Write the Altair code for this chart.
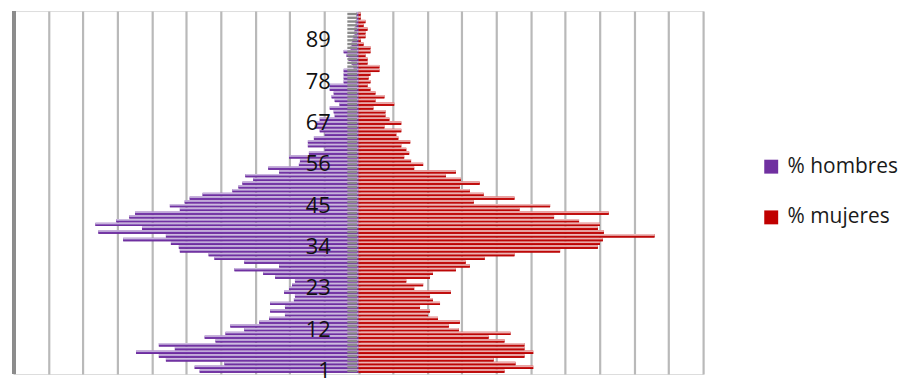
import altair as alt
import pandas as pd

# Ages (categories), bottom to top
edades = list(range(1, 97))

# % of total population per single age (gridline = 0.2 %)
hombres = [0.922, 0.951, 0.778, 1.118, 1.159, 1.291, 1.066, 1.159, 0.830, 0.893,
           0.772, 0.663, 0.744, 0.576, 0.519, 0.427, 0.513, 0.427, 0.513, 0.375,
           0.369, 0.432, 0.403, 0.386, 0.369, 0.484, 0.553, 0.720, 0.461, 0.663,
           0.836, 0.870, 1.037, 1.043, 1.089, 1.366, 1.118, 1.510, 1.256, 1.527,
           1.406, 1.331, 1.297, 1.037, 1.095, 1.009, 0.980, 0.905, 0.732, 0.697,
           0.674, 0.611, 0.657, 0.461, 0.524, 0.346, 0.340, 0.403, 0.288, 0.196,
           0.294, 0.294, 0.259, 0.196, 0.225, 0.254, 0.242, 0.225, 0.138, 0.144,
           0.167, 0.110, 0.138, 0.156, 0.144, 0.167, 0.167, 0.086, 0.086, 0.086,
           0.086, 0.029, 0.040, 0.058, 0.069, 0.086, 0.046, 0.040, 0.035, 0.029,
           0.023, 0.023, 0.017, 0.017, 0.012, 0.012]

mujeres = [0.847, 1.014, 0.911, 0.784, 0.963, 1.014, 0.963, 0.963, 0.847, 0.755,
           0.882, 0.582, 0.524, 0.588, 0.461, 0.403, 0.415, 0.357, 0.473, 0.432,
           0.415, 0.536, 0.323, 0.375, 0.277, 0.415, 0.432, 0.565, 0.646, 0.622,
           0.732, 0.905, 1.170, 1.389, 1.401, 1.418, 1.718, 1.424, 1.389, 1.401,
           1.280, 1.135, 1.452, 0.934, 1.112, 0.669, 0.905, 0.726, 0.646, 0.588,
           0.703, 0.594, 0.507, 0.565, 0.323, 0.375, 0.305, 0.265, 0.294, 0.277,
           0.248, 0.300, 0.231, 0.219, 0.248, 0.150, 0.248, 0.179, 0.156, 0.156,
           0.086, 0.207, 0.098, 0.150, 0.098, 0.069, 0.052, 0.069, 0.058, 0.069,
           0.121, 0.121, 0.052, 0.052, 0.040, 0.069, 0.069, 0.029, 0.012, 0.040,
           0.040, 0.052, 0.029, 0.040, 0.012, 0.012]

etiquetas = [1, 12, 23, 34, 45, 56, 67, 78, 89]
series = ["% hombres", "% mujeres"]
colores = ["#7030A0", "#C00000"]

rows = []
for e, h, m in zip(edades, hombres, mujeres):
    rows.append({"edad": e, "sexo": series[0], "valor": -h})
    rows.append({"edad": e, "sexo": series[1], "valor": m})
df = pd.DataFrame(rows)
df_lab = pd.DataFrame({"edad": etiquetas, "texto": [str(v) for v in etiquetas]})

grid_vals = [round(-2 + 0.2 * i, 1) for i in range(21)]
xscale = alt.Scale(domain=[-2, 2], nice=False, zero=False)
xaxis = alt.Axis(values=grid_vals, grid=True, labels=False, ticks=False,
                 domain=False, title=None, gridColor="#b9b9b9", gridWidth=2.2)
yscale = alt.Scale(domain=edades[::-1], paddingInner=0.12, paddingOuter=0.35)
yenc = alt.Y("edad:O", scale=yscale, axis=None)

grad_h = alt.Gradient(gradient="linear", x1=0, x2=0, y1=0, y2=1, stops=[
    alt.GradientStop(color="#d8cae8", offset=0),
    alt.GradientStop(color="#b49ad0", offset=0.42),
    alt.GradientStop(color="#7638aa", offset=0.58),
    alt.GradientStop(color="#682898", offset=1)])
grad_m = alt.Gradient(gradient="linear", x1=0, x2=0, y1=0, y2=1, stops=[
    alt.GradientStop(color="#f2c6c6", offset=0),
    alt.GradientStop(color="#e29a9a", offset=0.42),
    alt.GradientStop(color="#c80c0c", offset=0.58),
    alt.GradientStop(color="#b00000", offset=1)])

base = alt.Chart(df)

flat = base.mark_bar(strokeWidth=0).encode(
    x=alt.X("valor:Q", scale=xscale, axis=xaxis),
    x2=alt.datum(0),
    y=yenc,
    color=alt.Color("sexo:N", scale=alt.Scale(domain=series, range=colores),
                    legend=alt.Legend(title=None, orient="none", legendX=751, legendY=146,
                                      symbolType="square", symbolSize=196,
                                      symbolStrokeWidth=0, labelFont="Open Sans",
                                      labelFontSize=21, labelColor="#1a1a1a",
                                      rowPadding=29, labelOffset=6, padding=0)),
)

men = base.transform_filter(alt.datum.sexo == series[0]).mark_bar(
    fill=grad_h, strokeWidth=0).encode(
    x=alt.X("valor:Q", scale=xscale, axis=xaxis), x2=alt.datum(0), y=yenc)

women = base.transform_filter(alt.datum.sexo == series[1]).mark_bar(
    fill=grad_m, strokeWidth=0).encode(
    x=alt.X("valor:Q", scale=xscale, axis=xaxis), x2=alt.datum(0), y=yenc)

gray = base.transform_filter(alt.datum.sexo == series[0]).mark_bar(
    color="#8a8a8a", height={"band": 0.72}, strokeWidth=0).encode(
    x=alt.X(datum=-0.065, scale=xscale, axis=xaxis), x2=alt.datum(-0.008), y=yenc)

wall = alt.Chart(df_lab).mark_rule(color="#8c8c8c", strokeWidth=3.5).encode(
    x=alt.X(datum=-2, scale=xscale, axis=xaxis))

labels = alt.Chart(df_lab).mark_text(
    align="right", baseline="middle", dx=-28, font="Open Sans", fontSize=22,
    color="#111111").encode(
    x=alt.X(datum=0, scale=xscale, axis=xaxis), y=yenc, text="texto:N")

chart = alt.layer(flat, men, women, gray, wall, labels).properties(
    width=693, height=365,
    padding={"left": 4, "top": 0, "right": 0, "bottom": 0},
).configure_view(stroke=None).configure(background="white")

chart.save("out.html", embed_options={"renderer": "svg", "actions": False})
